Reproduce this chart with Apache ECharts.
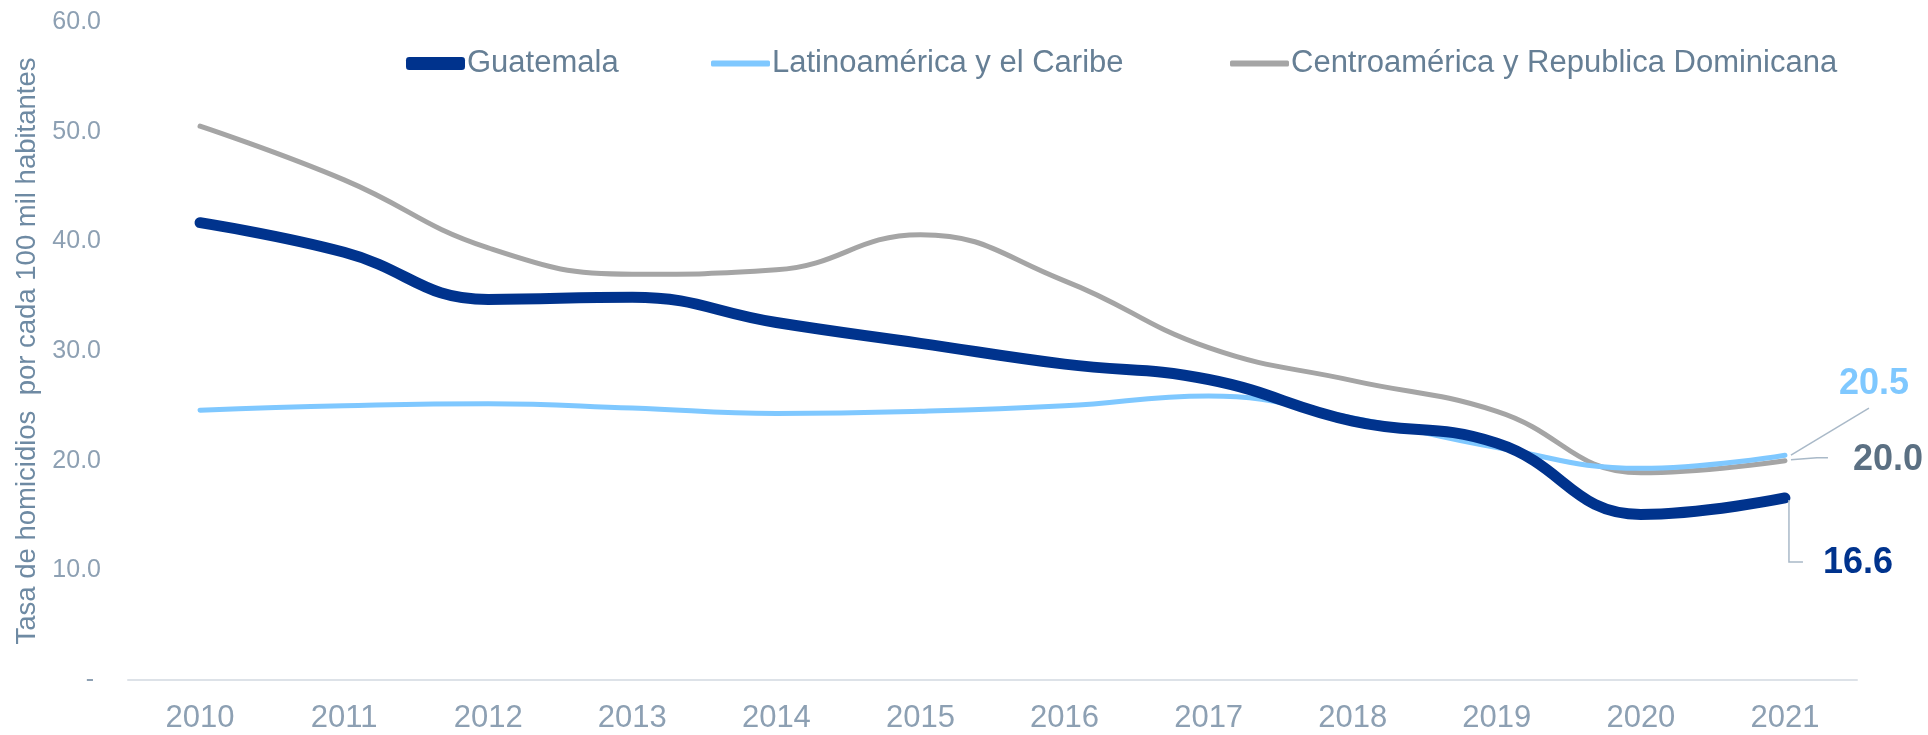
<!DOCTYPE html>
<html>
<head>
<meta charset="utf-8">
<script src="https://cdn.jsdelivr.net/npm/echarts@6/dist/echarts.min.js"></script>
<style>
html,body{margin:0;padding:0;background:#ffffff;}
#chart{width:1928px;height:735px;}
</style>
</head>
<body>
<div id="chart"></div>
<script>
// ---- data ----
const years = ['2010','2011','2012','2013','2014','2015','2016','2017','2018','2019','2020','2021'];
const guatemala = [41.7, 39.0, 34.7, 34.9, 32.6, 30.7, 28.8, 27.4, 23.6, 21.6, 15.1, 16.6];
const latam     = [24.6, 25.0, 25.2, 24.8, 24.3, 24.5, 25.0, 25.9, 23.9, 21.2, 19.3, 20.5];
const centro    = [50.5, 45.6, 39.4, 37.0, 37.4, 40.6, 36.4, 30.3, 27.3, 24.5, 18.9, 20.0];
const seriesNames = ['Guatemala', 'Latinoamérica y el Caribe', 'Centroamérica y Republica Dominicana'];
const yAxisTitle = 'Tasa de homicidios  por cada 100 mil habitantes';

// ---- styles ----
const FONT = '"Liberation Sans", Arial, sans-serif';
const colors = ['#00338D', '#7FC8FF', '#A5A5A5'];
const lineWidths = [11, 5, 5];
const legendLeft = [406, 711, 1230];
const legendIconH = [13, 6, 6];
const labelColors = ['#00338D', '#7FC8FF', '#5B7083'];
// leader line / label offsets relative to last data point (px)
const endLabelLayout = [
  {line: [[4, 2], [4, 64], [18, 64]], text: [73, 65]},
  {line: [[6, 0], [84, -47]], text: [89, -71]},
  {line: [[6, -1], [32, -3], [43, -3]], text: [103, -1]}
];

const allSeries = [guatemala, latam, centro];
const last = years.length - 1;

const chart = echarts.init(document.getElementById('chart'), null, {renderer: 'canvas'});

const lineSeries = allSeries.map((d, i) => ({
  name: seriesNames[i],
  type: 'line',
  data: d,
  smooth: 0.45,
  symbol: 'none',
  z: i === 0 ? 5 : (i === 1 ? 4 : 3),
  lineStyle: {color: colors[i], width: lineWidths[i], cap: 'round', join: 'round'},
  itemStyle: {color: colors[i]}
}));

const labelSeries = {
  type: 'custom',
  silent: true,
  z: 10,
  data: allSeries.map((d, i) => [last, d[last], i]),
  renderItem: function (params, api) {
    const idx = api.value(2);
    const pt = api.coord([api.value(0), api.value(1)]);
    const lay = endLabelLayout[idx];
    const pts = lay.line.map(p => [pt[0] + p[0], pt[1] + p[1]]);
    return {
      type: 'group',
      children: [
        {type: 'polyline', shape: {points: pts}, style: {stroke: '#A9B9C8', lineWidth: 1.5, fill: null}},
        {type: 'text', x: pt[0] + lay.text[0], y: pt[1] + lay.text[1],
          style: {text: api.value(1).toFixed(1), fill: labelColors[idx], fontSize: 36, fontWeight: 'bold',
            fontFamily: FONT, align: 'center', verticalAlign: 'middle', textAlign: 'center', textVerticalAlign: 'middle'}}
      ]
    };
  }
};

const legends = seriesNames.map((n, i) => ({
  data: [{name: n, icon: 'roundRect', itemStyle: {color: colors[i]}}],
  left: legendLeft[i],
  top: 48,
  itemWidth: 59,
  itemHeight: legendIconH[i],
  padding: 0,
  itemGap: 0,
  selectedMode: false,
  textStyle: {fontSize: 31, color: '#667F95', fontFamily: FONT, padding: [0, 0, 0, -3], verticalAlign: 'middle'}
}));

chart.setOption({
  animation: false,
  backgroundColor: '#ffffff',
  textStyle: {fontFamily: FONT},
  legend: legends,
  grid: {left: 128, right: 71, top: 22, bottom: 55, containLabel: false, outerBoundsMode: 'none'},
  xAxis: {
    type: 'category',
    data: years,
    boundaryGap: true,
    axisLine: {show: true, lineStyle: {color: '#DDE2E8', width: 2}},
    axisTick: {show: false},
    axisLabel: {color: '#8DA0B3', fontSize: 31, margin: 23, fontFamily: FONT},
    splitLine: {show: false}
  },
  yAxis: {
    type: 'value',
    min: 0, max: 60, interval: 10,
    name: yAxisTitle,
    nameLocation: 'middle',
    nameGap: 72,
    nameRotate: 90,
    nameTextStyle: {fontSize: 27.5, color: '#6E8AA3', fontFamily: FONT, padding: [0, 0, 14, 0]},
    axisLine: {show: false},
    axisTick: {show: false},
    splitLine: {show: false},
    axisLabel: {
      color: '#8DA0B3', fontSize: 25, margin: 27, fontFamily: FONT,
      formatter: v => v === 0 ? '- ' : v.toFixed(1)
    }
  },
  series: lineSeries.concat([labelSeries])
});
</script>
</body>
</html>
